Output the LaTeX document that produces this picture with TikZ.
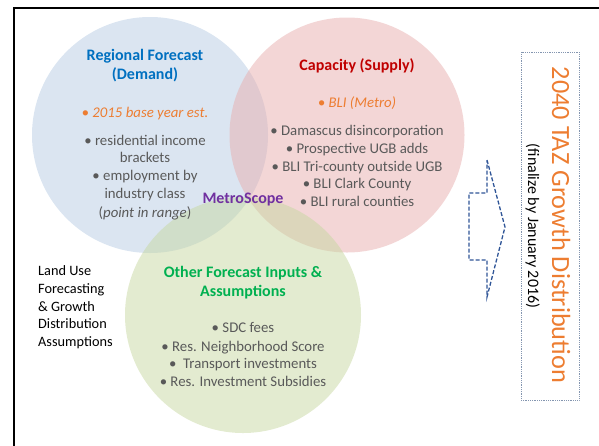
\documentclass[tikz,border=0pt]{standalone}
\usepackage{fontspec}
\setmainfont{Carlito}
\definecolor{bluefill}{HTML}{B7CBE3}
\definecolor{redfill}{HTML}{E7ADAD}
\definecolor{greenfill}{HTML}{C7D7A1}
\definecolor{titleblue}{HTML}{0070C0}
\definecolor{titlered}{HTML}{C00000}
\definecolor{titlegreen}{HTML}{00B050}
\definecolor{mspurple}{HTML}{7030A0}
\definecolor{accorange}{HTML}{ED7D31}
\definecolor{bodygray}{HTML}{595959}
\definecolor{arrowblue}{HTML}{2F5597}
\definecolor{boxgray}{HTML}{8496B0}
\tikzset{
  venn/.style={fill opacity=0.5, draw=none},
  ttl/.style={anchor=base, inner sep=0pt, font=\fontsize{16}{19}\selectfont\bfseries},
  acc/.style={anchor=base, inner sep=0pt, text=accorange, font=\fontsize{14.8}{17}\selectfont\itshape},
  bodyline/.style={anchor=base, inner sep=0pt, text=bodygray, font=\fontsize{14.8}{17}\selectfont},
  lefttxt/.style={anchor=base west, inner sep=0pt, text=black, font=\fontsize{14.3}{17}\selectfont},
}
\begin{document}
\begin{tikzpicture}[x=1pt,y=-1pt]
\useasboundingbox (0,0) rectangle (599,445);
% frame
\draw[line width=2.7pt, line join=miter] (14,446) -- (14,8) -- (600,8);
% circles
\fill[venn, bluefill] (150,135) circle[radius=118];
\fill[venn, redfill] (347,135) circle[radius=117.5];
\fill[venn, greenfill] (243,315) circle[radius=118];
% blue texts
\node[ttl, text=titleblue] (bt1) at (145,60.5) {Regional Forecast};
\node[ttl, text=titleblue] (bt2) at (145,79.5) {(Demand)};
\node[acc] (ba) at (145,117) {• 2015 base year est.};
\node[bodyline] (b1) at (145,145) {• residential income};
\node[bodyline] (b2) at (145,162) {brackets};
\node[bodyline] (b3) at (145,180) {• employment by};
\node[bodyline] (b4) at (145,198) {industry class};
\node[bodyline] (b5) at (145,217) {(\textit{point in range})};
% red texts
\node[ttl, text=titlered] (rt1) at (357,70.5) {Capacity (Supply)};
\node[acc] (ra) at (357,107) {• BLI (Metro)};
\node[bodyline] (r1) at (357,135) {• Damascus disincorporation};
\node[bodyline] (r2) at (357,153) {• Prospective UGB adds};
\node[bodyline] (r3) at (357,171) {• BLI Tri-county outside UGB};
\node[bodyline] (r4) at (357,188) {• BLI Clark County};
\node[bodyline] (r5) at (357,206) {• BLI rural counties};
% metroscope
\node[ttl, text=mspurple] (ms) at (243,203.5) {MetroScope};
% green texts
\node[ttl, text=titlegreen] (gt1) at (243,277.5) {Other Forecast Inputs \&};
\node[ttl, text=titlegreen] (gt2) at (243,296.5) {Assumptions};
\node[bodyline] (g1) at (243,332) {• SDC fees};
\node[bodyline] (g2) at (243,351) {• Res. Neighborhood Score};
\node[bodyline] (g3) at (243,368) {•\ \ Transport investments};
\node[bodyline] (g4) at (243,386) {• Res. Investment Subsidies};
% left text
\node[lefttxt] (l1) at (38,275) {Land Use};
\node[lefttxt] (l2) at (38,293) {Forecasting};
\node[lefttxt] (l3) at (38,311) {\& Growth};
\node[lefttxt] (l4) at (38,328) {Distribution};
\node[lefttxt] (l5) at (38,346) {Assumptions};
% dashed block arrow
\coordinate (a1) at (487,160);
\coordinate (a2) at (505,227);
\coordinate (a3) at (487,297);
\coordinate (a4) at (487,260);
\coordinate (a5) at (469,260);
\coordinate (a6) at (469,193);
\coordinate (a7) at (487,193);
\draw[arrowblue, line width=1.3pt, dash pattern=on 4pt off 2pt] (a1) -- (a2) -- (a3) -- (a4) -- (a5) -- (a6) -- (a7) -- cycle;
% right box
\node[draw=boxgray, densely dotted, line width=0.8pt, minimum width=58, minimum height=348, inner sep=0pt] (box) at (550,226) {};
\node[anchor=base, rotate=-90, inner sep=0pt, text=accorange, font=\fontsize{26.3}{30}\selectfont] (main) at (552,225) {2040 TAZ Growth Distribution};
\node[anchor=base, rotate=-90, inner sep=0pt, text=black, font=\fontsize{16}{19}\selectfont] (sub) at (528,226) {(finalize by January 2016)};
\end{tikzpicture}
\end{document}
